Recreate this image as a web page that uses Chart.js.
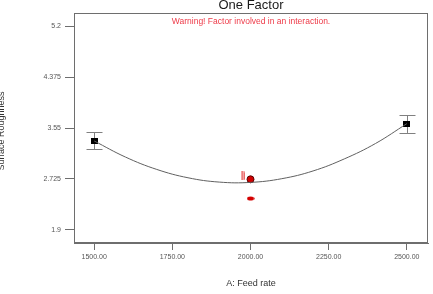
<!DOCTYPE html>
<html>
<head>
<meta charset="utf-8">
<script src="https://cdn.jsdelivr.net/npm/chart.js@4.4.1/dist/chart.umd.min.js"></script>
<style>
  html, body { margin: 0; padding: 0; background: #fff; }
  #wrap { width: 433px; height: 294px; }
</style>
</head>
<body>
<div id="wrap"><canvas id="oneFactor" width="433" height="294"></canvas></div>
<script>
// data
const feedRate = [1500, 2500];
const meanRough = [3.34, 3.62];
const errLow = [3.205, 3.47];
const errHigh = [3.48, 3.755];

const curveX = [1500, 1600, 1700, 1800, 1900, 2000, 2100, 2200, 2300, 2400, 2500];
const curveY = [3.34, 3.08, 2.88, 2.745, 2.675, 2.67, 2.73, 2.855, 3.05, 3.30, 3.62];

const designX = [2000];
const designY = [2.72];
const lowX = [2000];
const lowY = [2.41];
const stackX = [1975];
const stackY = [2.775];

const xTicks = [1500, 1750, 2000, 2250, 2500];
const xTickLabels = ["1500.00", "1750.00", "2000.00", "2250.00", "2500.00"];
const yTicks = [1.9, 2.725, 3.55, 4.375, 5.2];
const yTickLabels = ["1.9", "2.725", "3.55", "4.375", "5.2"];

const FONT = "'Liberation Sans', Arial, sans-serif";
const AXIS_GRAY = "#6e6e6e";

// little marker images
function markImg(w, h, draw) {
    const c = document.createElement("canvas");
    c.width = w; c.height = h;
    draw(c.getContext("2d"));
    return c;
}
const squareMark = markImg(7, 6, g => { g.fillStyle = "#000"; g.fillRect(0, 0, 7, 6); });
const ovalMark = markImg(8, 5, g => {
    g.fillStyle = "#d40000";
    g.beginPath(); g.ellipse(4, 2.5, 3.6, 2, 0, 0, Math.PI * 2); g.fill();
});
const stackMark = markImg(4, 9, g => {
    g.fillStyle = "#f7b4b4"; g.fillRect(0, 0, 4, 9);
    g.fillStyle = "#ea6a6a"; g.fillRect(1, 0, 1, 9); g.fillRect(3, 1, 1, 7);
});

const errorBars = {
    id: "errorBars",
    beforeDatasetsDraw(chart) {
        const { ctx, scales: { x, y } } = chart;
        ctx.save();
        ctx.strokeStyle = "#808080";
        ctx.lineWidth = 1;
        feedRate.forEach((fr, i) => {
            const px = Math.round(x.getPixelForValue(fr)) + 0.5;
            const top = y.getPixelForValue(errHigh[i]);
            const bot = y.getPixelForValue(errLow[i]);
            ctx.beginPath();
            ctx.moveTo(px, top); ctx.lineTo(px, bot);
            ctx.moveTo(px - 8, Math.round(top) + 0.5); ctx.lineTo(px + 8, Math.round(top) + 0.5);
            ctx.moveTo(px - 8, Math.round(bot) + 0.5); ctx.lineTo(px + 8, Math.round(bot) + 0.5);
            ctx.stroke();
        });
        ctx.restore();
    }
};

const frameAndText = {
    id: "frameAndText",
    afterDraw(chart) {
        const { ctx, chartArea: a } = chart;
        ctx.save();
        ctx.strokeStyle = AXIS_GRAY;
        ctx.lineWidth = 1;
        ctx.strokeRect(Math.round(a.left) + 0.5, Math.round(a.top) + 0.5,
            Math.round(a.right - a.left) - 1, Math.round(a.bottom - a.top) - 1);

        const cx = (a.left + a.right) / 2;
        ctx.textAlign = "center";
        ctx.textBaseline = "middle";
        ctx.fillStyle = "#1a1a1a";
        ctx.font = "13px " + FONT;
        ctx.fillText("One Factor", cx, 5);

        ctx.fillStyle = "#ee3a48";
        ctx.font = "8.5px " + FONT;
        ctx.fillText("Warning! Factor involved in an interaction.", cx, 22);

        ctx.fillStyle = "#333";
        ctx.font = "9px " + FONT;
        ctx.fillText("A: Feed rate", cx, 284);

        ctx.translate(2, 131);
        ctx.rotate(-Math.PI / 2);
        ctx.fillText("Surface Roughness", 0, 0);
        ctx.restore();
    }
};

new Chart(document.getElementById("oneFactor"), {
    type: "scatter",
    data: {
        datasets: [
            {
                data: curveX.map((v, i) => ({ x: v, y: curveY[i] })),
                showLine: true,
                borderColor: "#606060",
                borderWidth: 1,
                tension: 0.4,
                pointRadius: 0
            },
            {
                data: stackX.map((v, i) => ({ x: v, y: stackY[i] })),
                pointStyle: stackMark
            },
            {
                data: designX.map((v, i) => ({ x: v, y: designY[i] })),
                pointStyle: "circle",
                pointRadius: 3.5,
                backgroundColor: "#d00000",
                borderColor: "#5a0000",
                borderWidth: 1
            },
            {
                data: lowX.map((v, i) => ({ x: v, y: lowY[i] })),
                pointStyle: ovalMark
            },
            {
                data: feedRate.map((v, i) => ({ x: v, y: meanRough[i] })),
                pointStyle: squareMark
            }
        ]
    },
    options: {
        responsive: false,
        animation: false,
        layout: { padding: { top: 13, right: 3, left: 0, bottom: 0 } },
        plugins: { legend: { display: false }, tooltip: { enabled: false } },
        scales: {
            x: {
                type: "linear",
                min: 1435.4,
                max: 2567.7,
                afterBuildTicks: s => { s.ticks = xTicks.map(v => ({ value: v })); },
                afterFit: s => { s.height = 51; },
                ticks: {
                    callback: (v, i) => xTickLabels[i],
                    font: { family: FONT, size: 7 },
                    color: "#555",
                    padding: 3,
                    maxRotation: 0
                },
                grid: { drawOnChartArea: false, tickLength: 7, tickColor: AXIS_GRAY },
                border: { color: AXIS_GRAY }
            },
            y: {
                min: 1.6897,
                max: 5.4103,
                afterBuildTicks: s => { s.ticks = yTicks.map(v => ({ value: v })); },
                afterFit: s => { s.width = 74; },
                ticks: {
                    callback: (v, i) => yTickLabels[i],
                    font: { family: FONT, size: 7 },
                    color: "#555",
                    padding: 4
                },
                grid: { drawOnChartArea: false, tickLength: 9, tickColor: AXIS_GRAY },
                border: { color: AXIS_GRAY }
            }
        }
    },
    plugins: [errorBars, frameAndText]
});
</script>
</body>
</html>
